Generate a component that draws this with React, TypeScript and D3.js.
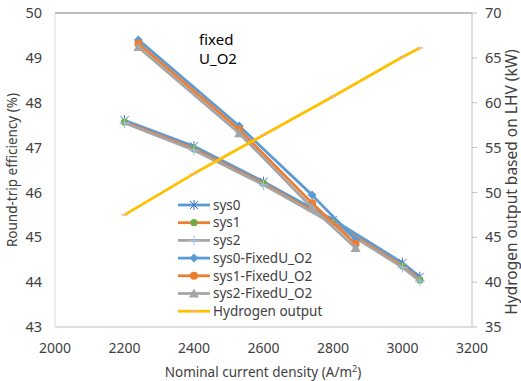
import React from "react";
import * as d3 from "d3";

const xBase = [2200, 2400, 2600, 2800, 3000, 3050];
const sys0 = [47.61, 47.03, 46.24, 45.39, 44.43, 44.12];
const sys1 = [47.57, 46.97, 46.2, 45.33, 44.36, 44.05];
const sys2 = [47.55, 46.94, 46.17, 45.3, 44.33, 44.02];
const xFixed = [2240, 2530, 2740, 2865];
const sys0Fixed = [49.4, 47.48, 45.94, 44.95];
const sys1Fixed = [49.32, 47.4, 45.76, 44.85];
const sys2Fixed = [49.24, 47.32, 45.66, 44.76];
const hydrogen = [47.5, 52.1, 56.4, 60.7, 65.1, 66.1];
const xTicks = [2000, 2200, 2400, 2600, 2800, 3000, 3200];
const yLeftTicks = [43, 44, 45, 46, 47, 48, 49, 50];
const yRightTicks = [35, 40, 45, 50, 55, 60, 65, 70];
const legendLabels = [
  "sys0",
  "sys1",
  "sys2",
  "sys0-FixedU_O2",
  "sys1-FixedU_O2",
  "sys2-FixedU_O2",
  "Hydrogen output",
];

const BLUE = "#5B9BD5";
const ORANGE = "#ED7D31";
const GRAY = "#A5A5A5";
const YELLOW = "#FFC000";
const FONT = "'Noto Sans', sans-serif";

type MarkerKind = "star" | "circleGreen" | "plus" | "diamond" | "circleOrange" | "triangle" | "dash";

function Marker({ kind, x, y }: { kind: MarkerKind; x: number; y: number }) {
  switch (kind) {
    case "star":
      return (
        <g stroke="#4472C4" strokeWidth={1} fill="none">
          <line x1={x - 4} y1={y - 4} x2={x + 4} y2={y + 4} />
          <line x1={x - 4} y1={y + 4} x2={x + 4} y2={y - 4} />
          <line x1={x} y1={y - 5} x2={x} y2={y + 5} />
        </g>
      );
    case "circleGreen":
      return <circle cx={x} cy={y} r={3.6} fill="#70AD47" />;
    case "plus":
      return (
        <g stroke="#9DC3E6" strokeWidth={1}>
          <line x1={x - 5} y1={y} x2={x + 5} y2={y} />
          <line x1={x} y1={y - 5} x2={x} y2={y + 5} />
        </g>
      );
    case "diamond":
      return <path d={`M${x},${y - 4.5}L${x + 4.5},${y}L${x},${y + 4.5}L${x - 4.5},${y}Z`} fill={BLUE} />;
    case "circleOrange":
      return <circle cx={x} cy={y} r={4} fill={ORANGE} />;
    case "triangle":
      return <path d={`M${x},${y - 5}L${x + 5},${y + 4}L${x - 5},${y + 4}Z`} fill={GRAY} />;
    case "dash":
      return <line x1={x - 3} y1={y} x2={x + 3} y2={y} stroke="#F4B183" strokeWidth={1.5} />;
  }
  return null;
}

export default function App() {
  const W = 521;
  const H = 381;
  const left = 55;
  const right = 472;
  const top = 13;
  const bottom = 327;

  const x = d3.scaleLinear().domain([2000, 3200]).range([left, right]);
  const yL = d3.scaleLinear().domain([43, 50]).range([bottom, top]);
  const yR = d3.scaleLinear().domain([35, 70]).range([bottom, top]);

  const lineL = d3
    .line<[number, number]>()
    .x((d) => x(d[0]))
    .y((d) => yL(d[1]));
  const lineR = d3
    .line<[number, number]>()
    .x((d) => x(d[0]))
    .y((d) => yR(d[1]));

  const zip = (xs: number[], ys: number[]) => xs.map((v, i) => [v, ys[i]] as [number, number]);

  const series: { xs: number[]; ys: number[]; color: string; marker: MarkerKind; right?: boolean }[] = [
    { xs: xBase, ys: sys0, color: BLUE, marker: "star" },
    { xs: xBase, ys: sys1, color: ORANGE, marker: "circleGreen" },
    { xs: xBase, ys: sys2, color: GRAY, marker: "plus" },
    { xs: xFixed, ys: sys0Fixed, color: BLUE, marker: "diamond" },
    { xs: xFixed, ys: sys1Fixed, color: ORANGE, marker: "circleOrange" },
    { xs: xFixed, ys: sys2Fixed, color: GRAY, marker: "triangle" },
    { xs: xBase, ys: hydrogen, color: YELLOW, marker: "dash", right: true },
  ];

  const legendX = 178;
  const legendY0 = 205;
  const legendDy = 17.7;

  return (
    <svg
      width={W}
      height={H}
      style={{ position: "absolute", left: 0, top: 0, background: "#fff" }}
      fontFamily={FONT}
    >
      <rect x={0} y={0} width={W} height={H} fill="#fff" />
      {/* axes */}
      <line x1={left} y1={top} x2={right} y2={top} stroke="#7F7F7F" strokeWidth={1} />
      <line x1={left} y1={top} x2={left} y2={bottom} stroke="#D9D9D9" strokeWidth={1} />
      <line x1={left} y1={bottom} x2={right} y2={bottom} stroke="#BFBFBF" strokeWidth={1} />
      <line x1={right} y1={top} x2={right} y2={bottom} stroke="#BFBFBF" strokeWidth={1} />
      {yRightTicks.map((t) => (
        <line key={"rt" + t} x1={right} x2={right + 5} y1={yR(t)} y2={yR(t)} stroke="#BFBFBF" />
      ))}

      {/* tick labels */}
      {yLeftTicks.map((t) => (
        <text key={"yl" + t} x={42} y={yL(t)} dy="0.35em" textAnchor="end" fontSize={14.5} fill="#404040">
          {t}
        </text>
      ))}
      {yRightTicks.map((t) => (
        <text key={"yr" + t} x={485} y={yR(t)} dy="0.35em" textAnchor="start" fontSize={14.5} fill="#404040">
          {t}
        </text>
      ))}
      {xTicks.map((t) => (
        <text key={"x" + t} x={x(t)} y={348} dy="0.35em" textAnchor="middle" fontSize={14} fill="#404040">
          {t}
        </text>
      ))}

      {/* axis titles */}
      <text x={263} y={372} dy="0.35em" textAnchor="middle" fontSize={13.5} fill="#404040">
        Nominal current density (A/m<tspan dy="-5" fontSize={9}>2</tspan>
        <tspan dy="5">)</tspan>
      </text>
      <text
        transform={`translate(12,${(top + bottom) / 2}) rotate(-90)`}
        textAnchor="middle"
        dy="0.35em"
        fontSize={13.5}
        fill="#404040"
      >
        Round-trip efficiency (%)
      </text>
      <text
        transform={`translate(512,182) rotate(-90)`}
        textAnchor="middle"
        dy="0.35em"
        fontSize={15.5}
        fill="#404040"
      >
        Hydrogen output based on LHV (kW)
      </text>

      {/* annotation */}
      <text x={199} y={45} fontSize={15} fill="#000">
        fixed
      </text>
      <text x={199} y={64} fontSize={15} fill="#000">
        U_O2
      </text>

      {/* series */}
      {series.map((s, i) => {
        const pts = zip(s.xs, s.ys);
        const gen = s.right ? lineR : lineL;
        const yS = s.right ? yR : yL;
        return (
          <g key={"s" + i}>
            <path d={gen(pts) || ""} fill="none" stroke={s.color} strokeWidth={2.8} strokeLinejoin="round" />
            {pts.map((p, j) => (
              <Marker key={j} kind={s.marker} x={x(p[0])} y={yS(p[1])} />
            ))}
          </g>
        );
      })}

      {/* legend */}
      {legendLabels.map((lab, i) => {
        const yy = legendY0 + i * legendDy;
        const s = series[i];
        return (
          <g key={"lg" + i}>
            <line x1={legendX} x2={legendX + 32} y1={yy} y2={yy} stroke={s.color} strokeWidth={2.8} />
            <Marker kind={s.marker} x={legendX + 16} y={yy} />
            <text x={legendX + 35} y={yy} dy="0.35em" fontSize={13.5} fill="#404040">
              {lab}
            </text>
          </g>
        );
      })}
    </svg>
  );
}
